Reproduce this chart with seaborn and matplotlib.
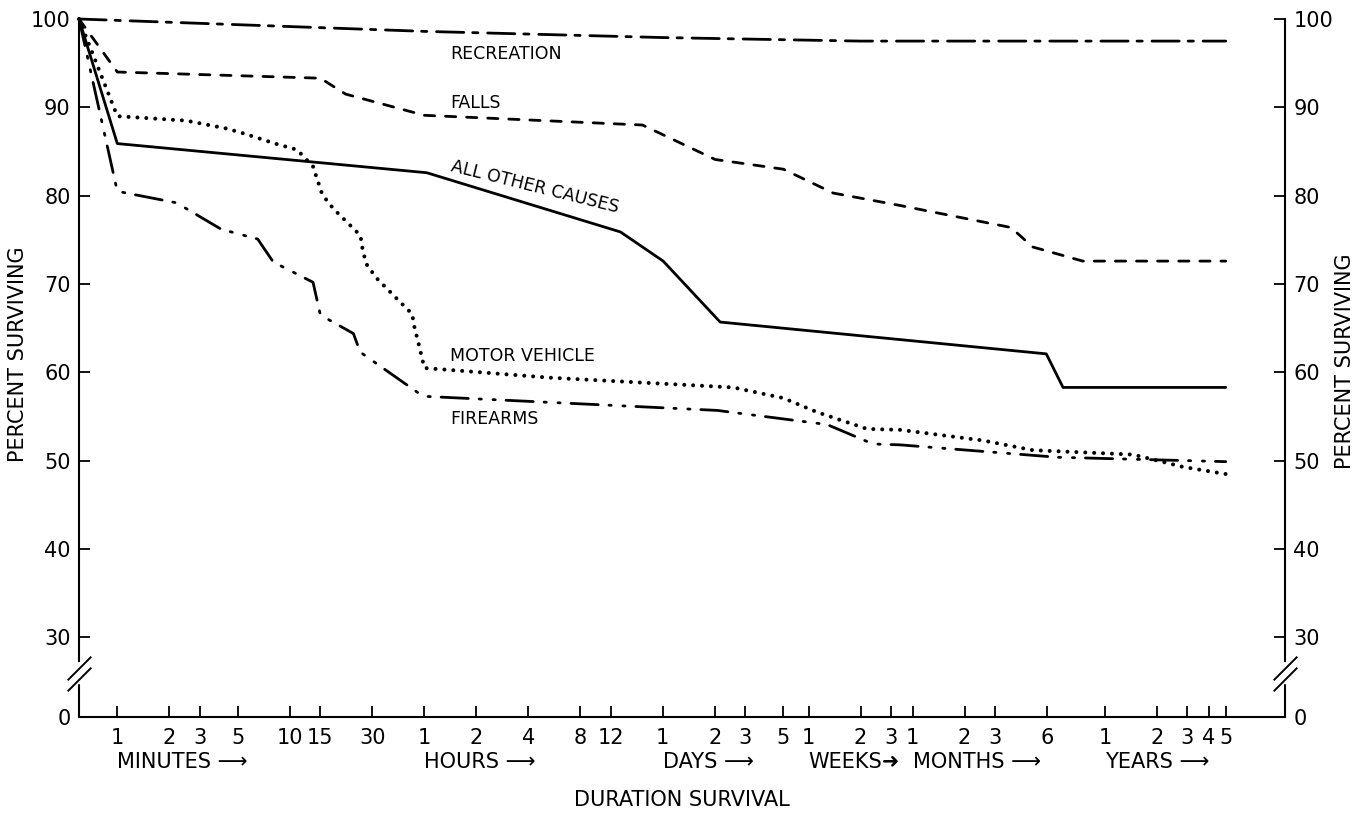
import numpy as np
import pandas as pd
import matplotlib
matplotlib.use("Agg")
import matplotlib.pyplot as plt
from matplotlib.ticker import NullLocator, FixedLocator
import seaborn as sns

# ---------------- data (time in minutes, percent surviving) ----------------
causes = ["RECREATION", "FALLS", "ALL OTHER CAUSES", "MOTOR VEHICLE", "FIREARMS"]

recreation_min = [0.6, 60, 1440, 20000, 2628000]
recreation_pct = [100, 98.6, 97.9, 97.5, 97.5]

falls_min = [0.6, 1, 15, 21, 60, 1100, 2900, 7200, 14000, 34000, 150000, 200000, 390000, 2628000]
falls_pct = [100, 94.0, 93.3, 91.5, 89.1, 88.0, 84.1, 83.0, 80.3, 78.9, 76.4, 74.2, 72.6, 72.6]

other_min = [0.6, 1, 62, 820, 1450, 3100, 240000, 300000, 2628000]
other_pct = [100, 85.9, 82.6, 75.9, 72.6, 65.7, 62.1, 58.3, 58.3]

motor_min = [0.6, 1, 2.5, 4.3, 5.5, 8.2, 11, 12.3, 13.6, 15.4, 17.9, 21.4, 25.6, 26.5,
             28, 32, 41.8, 51.1, 52, 56, 60, 322, 3690, 7180, 11300, 22000, 34200,
             103000, 200000, 764000, 1490000, 2628000]
motor_pct = [100, 89.0, 88.5, 87.6, 87.0, 85.9, 85.2, 84.2, 83.3, 80.1, 78.5, 77.0, 75.5, 73.6,
             72.1, 70.6, 68.3, 66.6, 65.5, 63.0, 60.5, 59.4, 58.3, 57.1, 55.5, 53.6, 53.5,
             52.3, 51.2, 50.7, 49.3, 48.5]

firearms_min = [0.6, 1, 2.2, 4, 6.5, 8, 13.6, 15, 23.3, 25.5, 59, 2980, 12900, 23800,
                34200, 277000, 2628000]
firearms_pct = [100, 80.5, 79.2, 76.2, 75.1, 72.5, 70.2, 66.5, 64.4, 62.3, 57.3, 55.7, 54.1,
                51.9, 51.8, 50.4, 49.9]

x_tick_minutes = [1, 2, 3, 5, 10, 15, 30,
                  60, 120, 240, 480, 720,
                  1440, 2880, 4320, 7200,
                  10080, 20160, 30240,
                  40320, 80640, 120960, 241920,
                  525600, 1051200, 1576800, 2102400, 2628000]
x_tick_labels = ["1", "2", "3", "5", "10", "15", "30",
                 "1", "2", "4", "8", "12",
                 "1", "2", "3", "5",
                 "1", "2", "3",
                 "1", "2", "3", "6",
                 "1", "2", "3", "4", "5"]
unit_labels = ["MINUTES ⟶", "HOURS ⟶", "DAYS ⟶", "WEEKS➜", "MONTHS ⟶", "YEARS ⟶"]
unit_start_minutes = [1, 60, 1440, 10080, 40320, 525600]

y_tick_values = [30, 40, 50, 60, 70, 80, 90, 100]
y_zero_label = "0"

series = {
    "RECREATION": (recreation_min, recreation_pct),
    "FALLS": (falls_min, falls_pct),
    "ALL OTHER CAUSES": (other_min, other_pct),
    "MOTOR VEHICLE": (motor_min, motor_pct),
    "FIREARMS": (firearms_min, firearms_pct),
}
df = pd.concat(
    [pd.DataFrame({"minutes": t, "percent": p, "cause": name}) for name, (t, p) in series.items()],
    ignore_index=True,
)

# ---------------- style ----------------
sns.set_theme(style="ticks")
plt.rcParams["font.family"] = ["DejaVu Sans"]
plt.rcParams["axes.edgecolor"] = "black"

dash_map = {
    "RECREATION": (9.8, 3.2, 1.9, 3.5),
    "FALLS": (3.7, 3.9),
    "ALL OTHER CAUSES": "",
    "MOTOR VEHICLE": (0.01, 2.2),
    "FIREARMS": (9.8, 3.9, 0.8, 4.2, 0.8, 3.9),
}

W, H = 1361, 822
fig = plt.figure(figsize=(W / 100, H / 100), dpi=100)
ax = fig.add_axes([79 / W, 105 / H, 1206 / W, 698 / H])
ax.set_xscale("log")

sns.lineplot(data=df, x="minutes", y="percent", style="cause", style_order=causes,
             dashes=dash_map, color="black", linewidth=2.0, estimator=None,
             sort=False, legend=False, ax=ax)

for ln in ax.lines:
    ln.set_dash_capstyle("round")
    ln.set_clip_on(False)
    yd = np.asarray(ln.get_ydata())
    if len(yd) == len(motor_pct) and np.allclose(yd, motor_pct):
        ln.set_linewidth(2.9)

# axis break: y=0 is drawn just below 30
y_zero_pos = 21.0
ax.set_xlim(0.6, 5.79e6)
ax.set_ylim(y_zero_pos, 100)

ax.xaxis.set_major_locator(FixedLocator(x_tick_minutes))
ax.xaxis.set_minor_locator(NullLocator())
ax.set_xticklabels(x_tick_labels)
ax.set_yticks([y_zero_pos] + y_tick_values)
ax.set_yticklabels([y_zero_label] + [str(v) for v in y_tick_values])

ax.tick_params(axis="both", direction="in", length=8, width=1.3, colors="black",
               labelsize=15, pad=6)
ax.tick_params(axis="x", pad=8)

ax2 = ax.twinx()
ax2.set_ylim(ax.get_ylim())
ax2.set_yticks([y_zero_pos] + y_tick_values)
ax2.set_yticklabels([y_zero_label] + [str(v) for v in y_tick_values])
ax2.tick_params(axis="y", direction="in", length=8, width=1.3, colors="black",
                labelsize=15, pad=6)

for a in (ax, ax2):
    for s in a.spines.values():
        s.set_linewidth(1.5)
        s.set_color("black")
ax.spines["top"].set_visible(False)
ax.spines["right"].set_visible(False)
ax2.spines["top"].set_visible(False)
ax2.spines["left"].set_visible(False)
ax2.spines["bottom"].set_visible(False)

gap_lo, gap_hi = 24.6, 27.3
ax.spines["left"].set_bounds(gap_hi, 100)
ax2.spines["right"].set_bounds(gap_hi, 100)
for xa in (0, 1):
    ax.plot([xa, xa], [y_zero_pos, gap_lo], transform=ax.get_yaxis_transform(),
            color="black", lw=1.5, clip_on=False)
    for yc in (25.3, 26.6):
        ax.plot([xa], [yc], transform=ax.get_yaxis_transform(), marker=[(-1, -1), (1, 1)],
                markersize=17, markeredgewidth=1.4, color="black", clip_on=False)

# labels
ax.set_xlabel("DURATION SURVIVAL", fontsize=15, color="black")
ax.xaxis.set_label_coords(0.5, -0.119)
ax.xaxis.label.set_va("center")
ax.set_ylabel("PERCENT SURVIVING", fontsize=15, color="black")
ax.yaxis.set_label_coords(-0.0506, 0.52)
ax.yaxis.label.set_va("center")
ax2.set_ylabel("PERCENT SURVIVING", fontsize=15, color="black", rotation=90)
ax2.yaxis.set_label_coords(1.0498, 0.51)
ax2.yaxis.label.set_va("center")

for lab, t0 in zip(unit_labels, unit_start_minutes):
    ax.text(t0, -0.0645, lab, transform=ax.get_xaxis_transform(), fontsize=15,
            ha="left", va="center", color="black")

# series annotations
lab_kw = dict(fontsize=12.5, color="black", ha="left", va="center")
ax.text(85, 96.0, "RECREATION", **lab_kw)
ax.text(85, 90.5, "FALLS", **lab_kw)
ax.text(85, 61.9, "MOTOR VEHICLE", **lab_kw)
ax.text(85, 54.7, "FIREARMS", **lab_kw)
ax.text(263, 81.0, "ALL OTHER CAUSES", fontsize=12.5, color="black", ha="center",
        va="center", rotation=-14, rotation_mode="anchor")

fig.savefig("out.png", dpi=100, facecolor="white")
